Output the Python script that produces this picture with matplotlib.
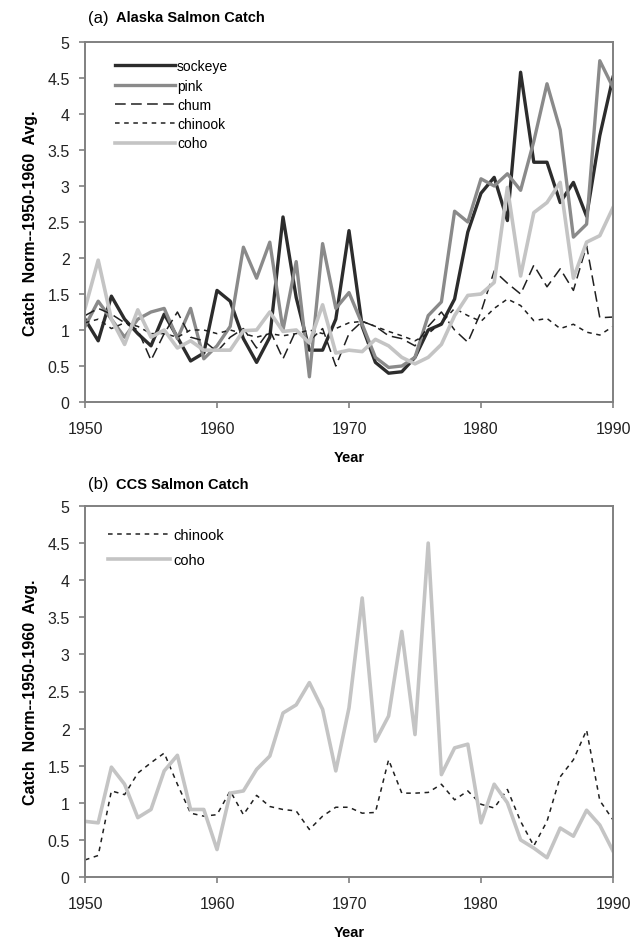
import matplotlib
matplotlib.use("Agg")
import matplotlib.pyplot as plt

plt.rcParams['font.family'] = ['Liberation Sans', 'DejaVu Sans']

years = list(range(1950, 1991))

# Alaska catch, normalised by the 1950-1960 average
ak_sockeye = [1.15, 0.85, 1.47, 1.15, 0.95, 0.78, 1.22, 0.90, 0.57, 0.68,
              1.55, 1.40, 0.88, 0.55, 0.90, 2.57, 1.45, 0.72, 0.72, 1.15,
              2.38, 1.05, 0.55, 0.40, 0.42, 0.62, 1.00, 1.08, 1.43, 2.36,
              2.90, 3.12, 2.52, 4.58, 3.33, 3.33, 2.77, 3.05, 2.58, 3.70,
              4.51]
ak_pink = [1.05, 1.40, 1.15, 0.90, 1.15, 1.25, 1.30, 0.88, 1.30, 0.60,
           0.78, 1.05, 2.15, 1.72, 2.22, 1.00, 1.95, 0.35, 2.20, 1.30,
           1.52, 1.08, 0.62, 0.48, 0.50, 0.62, 1.20, 1.39, 2.65, 2.50,
           3.10, 3.00, 3.17, 2.94, 3.62, 4.42, 3.78, 2.29, 2.47, 4.74,
           4.37]
ak_chum = [1.20, 1.30, 1.22, 1.10, 1.00, 0.58, 0.95, 1.25, 0.90, 0.85,
           0.70, 0.90, 1.02, 0.75, 1.00, 0.60, 1.00, 0.85, 1.02, 0.50,
           0.95, 1.12, 1.05, 0.92, 0.88, 0.78, 1.05, 1.25, 1.00, 0.83,
           1.25, 1.82, 1.65, 1.50, 1.90, 1.60, 1.85, 1.55, 2.17, 1.17,
           1.18]
ak_chinook = [1.10, 1.15, 1.02, 1.10, 1.05, 0.95, 0.95, 0.90, 1.00, 1.00,
              0.95, 1.00, 0.95, 0.90, 0.95, 0.92, 0.95, 1.00, 0.95, 1.02,
              1.10, 1.12, 1.05, 0.98, 0.92, 0.85, 0.95, 1.10, 1.30, 1.20,
              1.12, 1.30, 1.43, 1.34, 1.13, 1.16, 1.02, 1.08, 0.97, 0.93,
              1.05]
ak_coho = [1.30, 1.97, 1.15, 0.80, 1.28, 0.90, 1.00, 0.75, 0.85, 0.72,
           0.72, 0.72, 0.99, 1.00, 1.25, 0.98, 1.00, 0.82, 1.35, 0.68,
           0.72, 0.70, 0.87, 0.78, 0.62, 0.53, 0.62, 0.80, 1.20, 1.48,
           1.50, 1.66, 2.98, 1.75, 2.63, 2.77, 3.05, 1.72, 2.22, 2.31,
           2.70]

# California Current System catch
ccs_chinook = [0.23, 0.29, 1.16, 1.11, 1.40, 1.54, 1.67, 1.25, 0.86, 0.82,
               0.84, 1.16, 0.84, 1.10, 0.95, 0.91, 0.89, 0.64, 0.82, 0.94,
               0.94, 0.86, 0.87, 1.58, 1.13, 1.13, 1.14, 1.25, 1.04, 1.16,
               0.98, 0.93, 1.18, 0.75, 0.42, 0.75, 1.35, 1.58, 1.98, 1.03,
               0.77]
ccs_coho = [0.75, 0.73, 1.48, 1.25, 0.80, 0.91, 1.43, 1.64, 0.91, 0.91,
            0.37, 1.13, 1.16, 1.45, 1.63, 2.21, 2.32, 2.62, 2.26, 1.43,
            2.28, 3.76, 1.83, 2.17, 3.31, 1.92, 4.50, 1.38, 1.74, 1.79,
            0.73, 1.25, 1.00, 0.50, 0.39, 0.26, 0.66, 0.55, 0.90, 0.70,
            0.35]

yticks = [0, 0.5, 1, 1.5, 2, 2.5, 3, 3.5, 4, 4.5, 5]
ytick_labels = ['0', '0.5', '1', '1.5', '2', '2.5', '3', '3.5', '4', '4.5', '5']
xticks = [1950, 1960, 1970, 1980, 1990]

styles = {
    'sockeye': dict(color='#2c2c2c', lw=2.4, ls='-'),
    'pink': dict(color='#8a8a8a', lw=2.4, ls='-'),
    'chum': dict(color='#202020', lw=1.1, ls=(0, (7, 3.5))),
    'chinook': dict(color='#202020', lw=1.1, ls=(0, (3, 3))),
    'coho': dict(color='#c4c4c4', lw=2.6, ls='-'),
}

W, H = 640, 945
fig = plt.figure(figsize=(W / 100, H / 100), dpi=100)
ax1 = fig.add_axes([85 / W, 1 - 403 / H, 528 / W, 360 / H])
ax2 = fig.add_axes([85 / W, 1 - 878 / H, 528 / W, 371 / H])

def style_axes(ax):
    ax.set_xlim(1950, 1990)
    ax.set_ylim(0, 5)
    ax.set_xticks(xticks)
    ax.set_yticks(yticks)
    ax.set_yticklabels(ytick_labels)
    for s in ax.spines.values():
        s.set_color('#808080')
        s.set_linewidth(1.4)
    ax.tick_params(direction='out', length=4, width=1.2, color='#808080',
                   labelsize=11.5, labelcolor='#222222', pad=7)
    ax.tick_params(axis='x', pad=10)
    ax.set_xlabel('Year', fontsize=10.5, fontweight='bold', labelpad=10)
    ax.set_ylabel('Catch  Norm--1950-1960  Avg.', fontsize=11.5,
                  fontweight='bold', labelpad=7)

# (a) Alaska
for name, vals in [('sockeye', ak_sockeye), ('pink', ak_pink), ('chum', ak_chum),
                   ('chinook', ak_chinook), ('coho', ak_coho)]:
    ax1.plot(years, vals, label=name, **styles[name])
style_axes(ax1)
ax1.legend(loc='upper left', bbox_to_anchor=(0.057, 0.952), frameon=False,
           fontsize=10, handlelength=4.3, handletextpad=0.15, labelspacing=0.38,
           borderpad=0, borderaxespad=0)
fig.text(88 / W, 1 - 18 / H, '(a)', fontsize=12, va='center', ha='left')
fig.text(116 / W, 1 - 18 / H, 'Alaska Salmon Catch', fontsize=10.5,
         fontweight='bold', va='center', ha='left')

# (b) CCS
for name, vals in [('chinook', ccs_chinook), ('coho', ccs_coho)]:
    ax2.plot(years, vals, label=name, **styles[name])
style_axes(ax2)
ax2.legend(loc='upper left', bbox_to_anchor=(0.043, 0.94), frameon=False,
           fontsize=10.5, handlelength=4.3, handletextpad=0.2, labelspacing=0.75,
           borderpad=0, borderaxespad=0)
fig.text(88 / W, 1 - 485 / H, '(b)', fontsize=12, va='center', ha='left')
fig.text(116 / W, 1 - 485 / H, 'CCS Salmon Catch', fontsize=10.5,
         fontweight='bold', va='center', ha='left')

fig.savefig('out.png', dpi=100)
